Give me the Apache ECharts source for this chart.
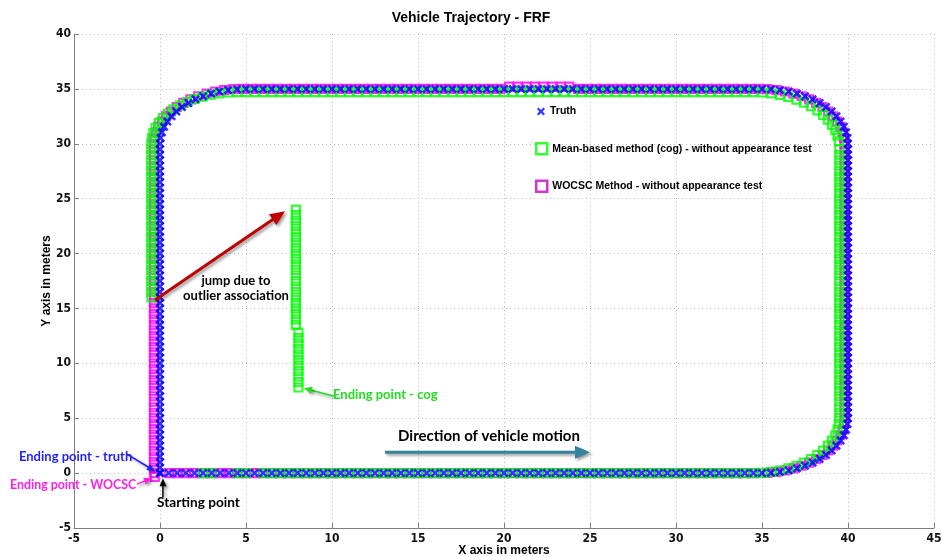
<!DOCTYPE html>
<html><head><meta charset="utf-8">
<script src="https://cdn.jsdelivr.net/npm/echarts@6/dist/echarts.min.js"></script>
<style>html,body{margin:0;padding:0;background:#fff}#c{width:942px;height:557px}</style>
</head><body><div id="c"></div>
<script>
const titleText = 'Vehicle Trajectory - FRF';
const xName = 'X axis in meters';
const yName = 'Y axis in meters';
const seriesNames = ['Truth', 'Mean-based method (cog) - without appearance test', 'WOCSC Method - without appearance test'];
const xRange = [-5, 45];
const yRange = [-5, 40];
const tickStep = 5;

const truthPath = [
[0,0],[0.5,0],[1,0],[1.5,0],[2,0],[2.5,0],[3,0],[3.5,0],[4,0],[4.5,0],[5,0],[5.5,0],[6,0],[6.5,0],[7,0],[7.5,0],[8,0],[8.5,0],[9,0],[9.5,0],[10,0],[10.5,0],[11,0],[11.5,0],[12,0],[12.5,0],[13,0],[13.5,0],[14,0],[14.5,0],[15,0],[15.5,0],[16,0],[16.5,0],[17,0],[17.5,0],[18,0],[18.5,0],[19,0],[19.5,0],[20,0],[20.5,0],[21,0],[21.5,0],[22,0],[22.5,0],[23,0],[23.5,0],[24,0],[24.5,0],[25,0],[25.5,0],[26,0],[26.5,0],[27,0],[27.5,0],[28,0],[28.5,0],[29,0],[29.5,0],[30,0],[30.5,0],[31,0],[31.5,0],[32,0],[32.5,0],[33,0],[33.5,0],[34,0],[34.5,0],[35,0],
[35.52,0.03],[36.04,0.11],[36.55,0.24],[37.03,0.43],[37.5,0.67],[37.94,0.95],[38.35,1.28],[38.72,1.65],[39.05,2.06],[39.33,2.5],[39.57,2.97],[39.76,3.45],[39.89,3.96],[39.97,4.48],[40,5],
[40,5.5],[40,6],[40,6.5],[40,7],[40,7.5],[40,8],[40,8.5],[40,9],[40,9.5],[40,10],[40,10.5],[40,11],[40,11.5],[40,12],[40,12.5],[40,13],[40,13.5],[40,14],[40,14.5],[40,15],[40,15.5],[40,16],[40,16.5],[40,17],[40,17.5],[40,18],[40,18.5],[40,19],[40,19.5],[40,20],[40,20.5],[40,21],[40,21.5],[40,22],[40,22.5],[40,23],[40,23.5],[40,24],[40,24.5],[40,25],[40,25.5],[40,26],[40,26.5],[40,27],[40,27.5],[40,28],[40,28.5],[40,29],[40,29.5],[40,30],
[39.97,30.52],[39.89,31.04],[39.76,31.55],[39.57,32.03],[39.33,32.5],[39.05,32.94],[38.72,33.35],[38.35,33.72],[37.94,34.05],[37.5,34.33],[37.03,34.57],[36.55,34.76],[36.04,34.89],[35.52,34.97],[35,35],
[34.5,35],[34,35],[33.5,35],[33,35],[32.5,35],[32,35],[31.5,35],[31,35],[30.5,35],[30,35],[29.5,35],[29,35],[28.5,35],[28,35],[27.5,35],[27,35],[26.5,35],[26,35],[25.5,35],[25,35],[24.5,35],[24,35],[23.5,35],[23,35],[22.5,35],[22,35],[21.5,35],[21,35],[20.5,35],[20,35],[19.5,35],[19,35],[18.5,35],[18,35],[17.5,35],[17,35],[16.5,35],[16,35],[15.5,35],[15,35],[14.5,35],[14,35],[13.5,35],[13,35],[12.5,35],[12,35],[11.5,35],[11,35],[10.5,35],[10,35],[9.5,35],[9,35],[8.5,35],[8,35],[7.5,35],[7,35],[6.5,35],[6,35],[5.5,35],[5,35],
[4.48,34.97],[3.96,34.89],[3.45,34.76],[2.97,34.57],[2.5,34.33],[2.06,34.05],[1.65,33.72],[1.28,33.35],[0.95,32.94],[0.67,32.5],[0.43,32.03],[0.24,31.55],[0.11,31.04],[0.03,30.52],[0,30],
[0,29.5],[0,29],[0,28.5],[0,28],[0,27.5],[0,27],[0,26.5],[0,26],[0,25.5],[0,25],[0,24.5],[0,24],[0,23.5],[0,23],[0,22.5],[0,22],[0,21.5],[0,21],[0,20.5],[0,20],[0,19.5],[0,19],[0,18.5],[0,18],[0,17.5],[0,17],[0,16.5],[0,16],[0,15.5],[0,15],[0,14.5],[0,14],[0,13.5],[0,13],[0,12.5],[0,12],[0,11.5],[0,11],[0,10.5],[0,10],[0,9.5],[0,9],[0,8.5],[0,8],[0,7.5],[0,7],[0,6.5],[0,6],[0,5.5],[0,5],[0,4.5],[0,4],[0,3.5],[0,3],[0,2.5],[0,2],[0,1.5],[0,1],[0,0.5],[0,0]
];

const cogPath = [
[2.5,0],[3,0],[4.5,0],[5,0],[6,0],[6.5,0],[7,0],[7.5,0],[8,0],[8.5,0],[9,0],[9.5,0],[10,0],[10.5,0],[11,0],[11.5,0],[12,0],[12.5,0],[13,0],[13.5,0],[14,0],[14.5,0],[15,0],[15.5,0],[16,0],[16.5,0],[17,0],[17.5,0],[18,0],[18.5,0],[19,0],[19.5,0],[20,0],[20.5,0],[21,0],[21.5,0],[22,0],[22.5,0],[23,0],[23.5,0],[24,0],[24.5,0],[25,0],[25.5,0],[26,0],[26.5,0],[27,0],[27.5,0],[28,0],[28.5,0],[29,0],[29.5,0],[30,0],[30.5,0],[31,0],[31.5,0],[32,0],[32.5,0],[33,0],[33.5,0],[34,0],[34.5,0],
[35.02,0.03],[35.54,0.11],[36.05,0.24],[36.53,0.43],[37,0.67],[37.44,0.95],[37.85,1.28],[38.22,1.65],[38.55,2.06],[38.83,2.5],[39.07,2.97],[39.26,3.45],[39.39,3.96],[39.47,4.48],[39.5,5],
[39.5,5.5],[39.5,6],[39.5,6.5],[39.5,7],[39.5,7.5],[39.5,8],[39.5,8.5],[39.5,9],[39.5,9.5],[39.5,10],[39.5,10.5],[39.5,11],[39.5,11.5],[39.5,12],[39.5,12.5],[39.5,13],[39.5,13.5],[39.5,14],[39.5,14.5],[39.5,15],[39.5,15.5],[39.5,16],[39.5,16.5],[39.5,17],[39.5,17.5],[39.5,18],[39.5,18.5],[39.5,19],[39.5,19.5],[39.5,20],[39.5,20.5],[39.5,21],[39.5,21.5],[39.5,22],[39.5,22.5],[39.5,23],[39.5,23.5],[39.5,24],[39.5,24.5],[39.5,25],[39.5,25.5],[39.5,26],[39.5,26.5],[39.5,27],[39.5,27.5],[39.5,28],[39.5,28.5],[39.5,29],[39.5,29.5],
[39.47,30.22],[39.39,30.74],[39.26,31.25],[39.07,31.73],[38.83,32.2],[38.55,32.64],[38.22,33.05],[37.85,33.42],[37.44,33.75],[37,34.03],[36.53,34.27],[36.05,34.46],[35.54,34.59],[35.02,34.67],[34.5,34.7],
[34,34.7],[33.5,34.7],[33,34.7],[32.5,34.7],[32,34.7],[31.5,34.7],[31,34.7],[30.5,34.7],[30,34.7],[29.5,34.7],[29,34.7],[28.5,34.7],[28,34.7],[27.5,34.7],[27,34.7],[26.5,34.7],[26,34.7],[25.5,34.7],[25,34.7],[24.5,34.7],[24,34.7],[23.5,34.7],[23,34.7],[22.5,34.7],[22,34.7],[21.5,34.7],[21,34.7],[20.5,34.7],[20,34.7],[19.5,34.7],[19,34.7],[18.5,34.7],[18,34.7],[17.5,34.7],[17,34.7],[16.5,34.7],[16,34.7],[15.5,34.7],[15,34.7],[14.5,34.7],[14,34.7],[13.5,34.7],[13,34.7],[12.5,34.7],[12,34.7],[11.5,34.7],[11,34.7],[10.5,34.7],[10,34.7],[9.5,34.7],[9,34.7],[8.5,34.7],[8,34.7],[7.5,34.7],[7,34.7],[6.5,34.7],[6,34.7],[5.5,34.7],[5,34.7],[4.5,34.7],
[3.98,34.67],[3.46,34.6],[2.95,34.47],[2.47,34.29],[2,34.07],[1.56,33.8],[1.15,33.49],[0.78,33.14],[0.45,32.76],[0.17,32.35],[-0.07,31.91],[-0.26,31.45],[-0.39,30.98],[-0.47,30.49],[-0.5,30],
[-0.5,29.5],[-0.5,29],[-0.5,28.5],[-0.5,28],[-0.5,27.5],[-0.5,27],[-0.5,26.5],[-0.5,26],[-0.5,25.5],[-0.5,25],[-0.5,24.5],[-0.5,24],[-0.5,23.5],[-0.5,23],[-0.5,22.5],[-0.5,22],[-0.5,21.5],[-0.5,21],[-0.5,20.5],[-0.5,20],[-0.5,19.5],[-0.5,19],[-0.5,18.5],[-0.5,18],[-0.5,17.5],[-0.5,17],[-0.5,16.5],[-0.5,16],
[7.9,24],[7.9,23.5],[7.9,23],[7.9,22.5],[7.9,22],[7.9,21.5],[7.9,21],[7.9,20.5],[7.9,20],[7.9,19.5],[7.9,19],[7.9,18.5],[7.9,18],[7.9,17.5],[7.9,17],[7.9,16.5],[7.9,16],[7.9,15.5],[7.9,15],[7.9,14.5],[7.9,14],[7.9,13.5],
[8.05,12.8],[8.05,12.3],[8.05,11.8],[8.05,11.3],[8.05,10.8],[8.05,10.3],[8.05,9.8],[8.05,9.3],[8.05,8.8],[8.05,8.3],[8.05,7.8]
];

const wocscPath = [
[0.5,0],[1,0],[1.5,0],[2,0],[2.5,0],[3,0],[3.5,0],[4,0],[4.5,0],[5,0],[5.5,0],[6,0],[6.5,0],[7,0],[7.5,0],[8,0],[8.5,0],[9,0],[9.5,0],[10,0],[10.5,0],[11,0],[11.5,0],[12,0],[12.5,0],[13,0],[13.5,0],[14,0],[14.5,0],[15,0],[15.5,0],[16,0],[16.5,0],[17,0],[17.5,0],[18,0],[18.5,0],[19,0],[19.5,0],[20,0],[20.5,0],[21,0],[21.5,0],[22,0],[22.5,0],[23,0],[23.5,0],[24,0],[24.5,0],[25,0],[25.5,0],[26,0],[26.5,0],[27,0],[27.5,0],[28,0],[28.5,0],[29,0],[29.5,0],[30,0],[30.5,0],[31,0],[31.5,0],[32,0],[32.5,0],[33,0],[33.5,0],[34,0],[34.5,0],
[35.32,0.03],[35.84,0.11],[36.35,0.24],[36.83,0.43],[37.3,0.67],[37.74,0.95],[38.15,1.28],[38.52,1.65],[38.85,2.06],[39.13,2.5],[39.37,2.97],[39.56,3.45],[39.69,3.96],[39.77,4.48],[39.8,5],
[39.8,5.5],[39.8,6],[39.8,6.5],[39.8,7],[39.8,7.5],[39.8,8],[39.8,8.5],[39.8,9],[39.8,9.5],[39.8,10],[39.8,10.5],[39.8,11],[39.8,11.5],[39.8,12],[39.8,12.5],[39.8,13],[39.8,13.5],[39.8,14],[39.8,14.5],[39.8,15],[39.8,15.5],[39.8,16],[39.8,16.5],[39.8,17],[39.8,17.5],[39.8,18],[39.8,18.5],[39.8,19],[39.8,19.5],[39.8,20],[39.8,20.5],[39.8,21],[39.8,21.5],[39.8,22],[39.8,22.5],[39.8,23],[39.8,23.5],[39.8,24],[39.8,24.5],[39.8,25],[39.8,25.5],[39.8,26],[39.8,26.5],[39.8,27],[39.8,27.5],[39.8,28],[39.8,28.5],[39.8,29],[39.8,29.5],[39.8,30],
[39.77,30.52],[39.69,31.04],[39.56,31.55],[39.37,32.03],[39.13,32.5],[38.85,32.94],[38.52,33.35],[38.15,33.72],[37.74,34.05],[37.3,34.33],[36.83,34.57],[36.35,34.76],[35.84,34.89],[35.32,34.97],[34.8,35],
[34.3,35],[33.8,35],[33.3,35],[32.8,35],[32.3,35],[31.8,35],[31.3,35],[30.8,35],[30.3,35],[29.8,35],[29.3,35],[28.8,35],[28.3,35],[27.8,35],[27.3,35],[26.8,35],[26.3,35],[25.8,35],[25.3,35],[24.8,35],[24.3,35],[23.8,35.2],[23.3,35.2],[22.8,35.2],[22.3,35.2],[21.8,35.2],[21.3,35.2],[20.8,35.2],[20.3,35.2],[19.8,35],[19.3,35],[18.8,35],[18.3,35],[17.8,35],[17.3,35],[16.8,35],[16.3,35],[15.8,35],[15.3,35],[14.8,35],[14.3,35],[13.8,35],[13.3,35],[12.8,35],[12.3,35],[11.8,35],[11.3,35],[10.8,35],[10.3,35],[9.8,35],[9.3,35],[8.8,35],[8.3,35],[7.8,35],[7.3,35],[6.8,35],[6.3,35],[5.8,35],[5.3,35],[4.8,35],
[4.26,34.97],[3.73,34.89],[3.21,34.76],[2.71,34.57],[2.22,34.33],[1.77,34.05],[1.35,33.72],[0.97,33.35],[0.63,32.94],[0.34,32.5],[0.1,32.03],[-0.1,31.55],[-0.24,31.04],[-0.32,30.52],[-0.35,30],
[-0.35,29.5],[-0.35,29],[-0.35,28.5],[-0.35,28],[-0.35,27.5],[-0.35,27],[-0.35,26.5],[-0.35,26],[-0.35,25.5],[-0.35,25],[-0.35,24.5],[-0.35,24],[-0.35,23.5],[-0.35,23],[-0.35,22.5],[-0.35,22],[-0.35,21.5],[-0.35,21],[-0.35,20.5],[-0.35,20],[-0.35,19.5],[-0.35,19],[-0.35,18.5],[-0.35,18],[-0.35,17.5],[-0.35,17],[-0.35,16.5],[-0.35,16],[-0.35,15.5],[-0.35,15],[-0.35,14.5],[-0.35,14],[-0.35,13.5],[-0.35,13],[-0.35,12.5],[-0.35,12],[-0.35,11.5],[-0.35,11],[-0.35,10.5],[-0.35,10],[-0.35,9.5],[-0.35,9],[-0.35,8.5],[-0.35,8],[-0.35,7.5],[-0.35,7],[-0.35,6.5],[-0.35,6],[-0.35,5.5],[-0.35,5],[-0.35,4.5],[-0.35,4],[-0.35,3.5],[-0.35,3],[-0.35,2.5],[-0.35,2],[-0.35,1.5],[-0.35,1],[-0.35,0.5],[-0.35,0],[-0.3,-0.35]
];

const chart = echarts.init(document.getElementById('c'), null, {renderer: 'canvas'});
const XMARK = 'path://M2,0 L5,3 L8,0 L10,2 L7,5 L10,8 L8,10 L5,7 L2,10 L0,8 L3,5 L0,2 Z';
const BLUE = '#0000ff', GREEN = '#00ff00', MAG = '#ff00ff';
const tickFont = {fontFamily: 'DejaVu Sans Condensed, Liberation Sans Narrow, sans-serif', fontWeight: 'bold', fontSize: 12, color: '#111'};
const nameFont = {fontFamily: 'Liberation Sans, sans-serif', fontWeight: 'bold', fontSize: 12, color: '#000'};
const legendFont = {fontFamily: 'Liberation Sans, sans-serif', fontWeight: 'bold', fontSize: 10.5, color: '#000'};
const axisCommon = {
  type: 'value', interval: tickStep, nameLocation: 'middle', nameTextStyle: nameFont, nameMoveOverlap: false,
  axisLine: {show: true, onZero: false, lineStyle: {color: '#808080', width: 1}},
  axisTick: {show: true, inside: true, length: 5, lineStyle: {color: '#808080'}},
  splitLine: {show: true, lineStyle: {type: [1, 3], color: '#bdbdbd', width: 1}},
  axisLabel: Object.assign({}, tickFont)
};

chart.setOption({
  animation: false,
  backgroundColor: '#fff',
  title: {text: titleText, left: 'center', top: 11, padding: 0, textStyle: {fontFamily: 'Liberation Sans, sans-serif', fontWeight: 'bold', fontSize: 14, color: '#000'}},
  grid: {left: 74, right: 8, top: 34, bottom: 29, outerBoundsMode: 'none'},
  xAxis: Object.assign({}, axisCommon, {min: xRange[0], max: xRange[1], name: xName, nameGap: 17, axisLabel: Object.assign({}, tickFont, {margin: 5})}),
  yAxis: Object.assign({}, axisCommon, {min: yRange[0], max: yRange[1], name: yName, nameGap: 21, axisLabel: Object.assign({}, tickFont, {margin: 3})}),
  legend: [
    {data: [{name: seriesNames[0], icon: XMARK, itemStyle: {color: BLUE}}], left: 537, top: 106, padding: 0, itemWidth: 8, itemHeight: 8, selectedMode: false, textStyle: legendFont},
    {data: [
      {name: seriesNames[1], icon: 'rect', itemStyle: {color: '#fff', borderColor: GREEN, borderWidth: 2.5}},
      {name: seriesNames[2], icon: 'rect', itemStyle: {color: '#fff', borderColor: '#cc00cc', borderWidth: 2.5}}
    ], orient: 'vertical', left: 535, top: 142, padding: 0, itemGap: 24, itemWidth: 11, itemHeight: 11, selectedMode: false, textStyle: legendFont}
  ],
  series: [
    {type: 'scatter', name: seriesNames[2], data: wocscPath, symbol: 'rect', symbolSize: 8, silent: true,
     itemStyle: {color: 'rgba(255,255,255,0)', borderColor: MAG, borderWidth: 2.2}, z: 2},
    {type: 'scatter', name: seriesNames[1], data: cogPath, symbol: 'rect', symbolSize: 8, silent: true,
     itemStyle: {color: 'rgba(255,255,255,0)', borderColor: GREEN, borderWidth: 2.2}, z: 3},
    {type: 'scatter', name: seriesNames[0], data: truthPath, symbol: XMARK, symbolSize: 9, silent: true,
     itemStyle: {color: BLUE}, z: 4}
  ]
});

// annotations in data coordinates
const P = p => chart.convertToPixel({xAxisIndex: 0, yAxisIndex: 0}, p);
const shadow = {shadowColor: 'rgba(0,0,0,0.4)', shadowBlur: 3, shadowOffsetX: 2, shadowOffsetY: 2};
function arrow(a, b, color, w, hl, hw, sh) {
  const p1 = P(a), p2 = P(b);
  const dx = p2[0] - p1[0], dy = p2[1] - p1[1];
  const L = Math.hypot(dx, dy), ux = dx / L, uy = dy / L;
  const bx = p2[0] - ux * hl, by = p2[1] - uy * hl, nx = -uy, ny = ux;
  const extra = sh ? shadow : {};
  return [
    {type: 'line', z: 100, shape: {x1: p1[0], y1: p1[1], x2: bx + ux, y2: by + uy}, style: Object.assign({stroke: color, lineWidth: w}, extra)},
    {type: 'polygon', z: 100, shape: {points: [[p2[0], p2[1]], [bx + nx * hw / 2, by + ny * hw / 2], [bx - nx * hw / 2, by - ny * hw / 2]]}, style: Object.assign({fill: color}, extra)}
  ];
}
function label(p, text, color, align, size) {
  const q = P(p);
  return {type: 'text', z: 100, x: q[0], y: q[1], style: {text: text, fill: color, fontFamily: 'Lato, sans-serif', fontWeight: 'bold', fontSize: size || 13, lineHeight: 15, align: align || 'left', verticalAlign: 'middle'}};
}
const g = [].concat(
  arrow([-0.29, 15.76], [7.27, 23.86], '#c00000', 3, 15, 13, true),
  arrow([13.08, 1.91], [25, 1.91], '#31849b', 3, 15, 13, true),
  arrow([-1.92, 1.73], [-0.29, 0.18], '#1f1fff', 1.5, 8, 7, true),
  arrow([-1.34, -1.0], [-0.47, -0.46], '#ff1fdf', 1.5, 8, 7, true),
  arrow([0.17, -2.19], [0.17, -0.46], '#000000', 1.5, 8, 7, true),
  arrow([10.12, 7.01], [8.37, 7.74], '#22dd22', 1.5, 8, 7, true),
  [
    label([4.42, 16.85], 'jump due to\noutlier association', '#000', 'center'),
    label([10.06, 7.1], 'Ending point - cog', '#22dd22'),
    label([13.84, 3.37], 'Direction of vehicle motion', '#000', 'left', 15),
    label([-8.2, 1.46], 'Ending point - truth', '#1f1fff'),
    label([-8.72, -1.09], 'Ending point - WOCSC', '#ff1fdf', 'left', 12.4),
    label([-0.17, -2.73], 'Starting point', '#000', 'left', 13.6)
  ]
);
chart.setOption({graphic: g});
</script>
</body></html>
